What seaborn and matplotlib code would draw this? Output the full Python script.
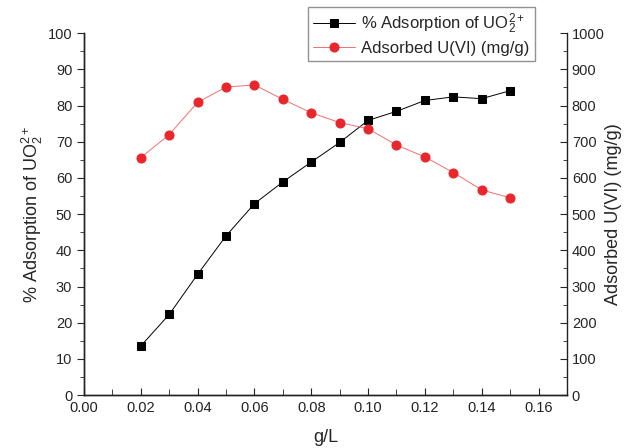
import matplotlib
matplotlib.use("Agg")
import matplotlib.pyplot as plt
import seaborn as sns
import pandas as pd
from matplotlib.ticker import MultipleLocator

dose = [0.02, 0.03, 0.04, 0.05, 0.06, 0.07, 0.08, 0.09, 0.10, 0.11, 0.12, 0.13, 0.14, 0.15]
pct_adsorption = [13.6, 22.3, 33.4, 44.0, 52.9, 58.9, 64.4, 69.8, 75.9, 78.4, 81.4, 82.4, 81.9, 84.1]
adsorbed_u = [656, 720, 809, 851, 857, 817, 780, 753, 736, 691, 658, 615, 567, 545]

sns.set_style("ticks")
plt.rcParams['font.family'] = ['Liberation Sans', 'DejaVu Sans']
plt.rcParams['mathtext.fontset'] = 'custom'
plt.rcParams['mathtext.rm'] = 'Liberation Sans'
plt.rcParams['mathtext.it'] = 'Liberation Sans'

df = pd.DataFrame({"x": dose, "pct": pct_adsorption, "u": adsorbed_u})

fig = plt.figure(figsize=(6.32, 4.48), dpi=100)
ax = fig.add_axes([0.133, 0.118, 0.764, 0.808])
ax2 = ax.twinx()

sns.lineplot(data=df, x="x", y="pct", ax=ax, color="black", lw=0.7,
             marker="s", markersize=5.5, markerfacecolor="black", markeredgecolor="black",
             label="% Adsorption of UO$_2^{2+}$", legend=False)
sns.lineplot(data=df, x="x", y="u", ax=ax2, color="#f07070", lw=0.7,
             marker="o", markersize=6.5, markerfacecolor="#e8262b", markeredgecolor="#e8262b",
             label="Adsorbed U(VI) (mg/g)", legend=False)

ax.set_xlim(0, 0.17)
ax.set_ylim(0, 100)
ax2.set_ylim(0, 1000)

ax.xaxis.set_major_locator(MultipleLocator(0.02))
ax.xaxis.set_minor_locator(MultipleLocator(0.01))
ax.yaxis.set_major_locator(MultipleLocator(10))
ax.yaxis.set_minor_locator(MultipleLocator(5))
ax2.yaxis.set_major_locator(MultipleLocator(100))
ax2.yaxis.set_minor_locator(MultipleLocator(50))
ax.xaxis.set_major_formatter(plt.FuncFormatter(lambda v, p: f"{v:.2f}"))

for a in (ax, ax2):
    a.spines['top'].set_visible(False)
    for s in a.spines.values():
        s.set_linewidth(1.0)
        s.set_color('#222222')
ax.spines['right'].set_visible(False)

ax.tick_params(axis='x', which='both', direction='in', labelsize=10.5, colors='#222222', pad=4)
ax.tick_params(axis='x', which='major', length=5)
ax.tick_params(axis='x', which='minor', length=4)
ax.tick_params(axis='y', which='major', direction='out', length=5, labelsize=10.5)
ax.tick_params(axis='y', which='minor', direction='out', length=3)
ax2.tick_params(axis='y', which='major', direction='in', length=5, labelsize=10.5)
ax2.tick_params(axis='y', which='minor', direction='in', length=3)

ax.set_xlabel("g/L", fontsize=13, labelpad=10)
ax.set_ylabel("% Adsorption of UO$_2^{2+}$", fontsize=13, labelpad=2)
ax2.set_ylabel("Adsorbed U(VI) (mg/g)", fontsize=13, labelpad=0)

h1, l1 = ax.get_legend_handles_labels()
h2, l2 = ax2.get_legend_handles_labels()
leg = fig.legend(h1 + h2, l1 + l2, loc='upper left', bbox_to_anchor=(308/632, 1 - 7/448),
                 fontsize=12, frameon=True, fancybox=False, borderpad=0.3,
                 handlelength=2.5, handletextpad=0.4, labelspacing=0.25, borderaxespad=0)
leg.get_frame().set_edgecolor('#777777')
leg.get_frame().set_linewidth(1.0)

fig.savefig("out.png", dpi=100)
